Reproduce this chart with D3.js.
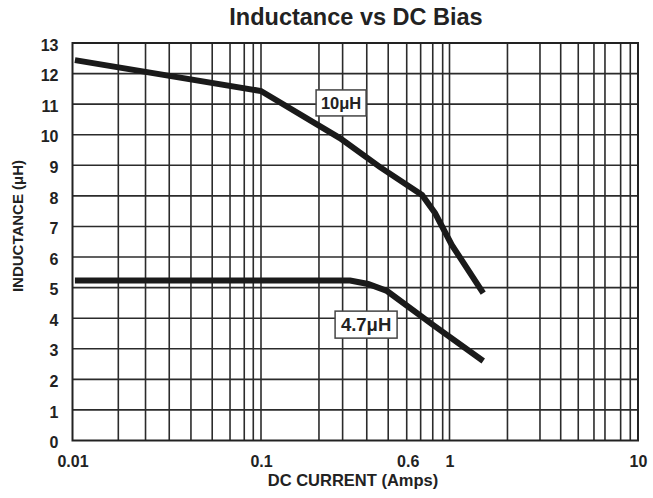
<!DOCTYPE html>
<html>
<head>
<meta charset="utf-8">
<script src="https://cdn.jsdelivr.net/npm/d3@7"></script>
<style>
  body { margin: 0; background: #fff; }
  svg { display: block; font-family: "Liberation Sans", Arial, Helvetica, sans-serif; }
</style>
</head>
<body>
<svg width="653" height="498"></svg>
<script>
// DC current (A) vs inductance (uH)
var current10 = [0.0103, 0.1, 0.262, 0.428, 0.715, 0.838, 1.03, 1.51];
var induct10  = [12.44, 11.43, 9.89, 8.94, 8.03, 7.44, 6.39, 4.82];

var current47 = [0.0103, 0.297, 0.370, 0.466, 0.817, 1.51];
var induct47  = [5.23, 5.23, 5.12, 4.89, 3.78, 2.6];

// vertical grid lines as drawn on the original (not quite even)
var xGrid = [0.0175, 0.0244, 0.0326, 0.0425, 0.0551, 0.0685, 0.0815, 0.091, 0.1,
             0.203, 0.271, 0.364, 0.473, 0.593, 0.703, 0.815, 0.92, 1,
             2.03, 3.02, 3.89, 4.82, 5.84, 6.68, 8.09, 9.1];
var yGrid = [1, 2, 3, 4, 5, 6, 7, 8, 9, 10, 11, 12];

var xTicks = [0.01, 0.1, 0.6, 1, 10];
var xTickLabels = ["0.01", "0.1", "0.6", "1", "10"];
var yTicks = [0, 1, 2, 3, 4, 5, 6, 7, 8, 9, 10, 11, 12, 13];

var seriesNames = ["10\u03BCH", "4.7\u03BCH"];

var margin = {top: 43, right: 15, bottom: 57.5, left: 72.5},
    width = 653, height = 498;

var svg = d3.select("svg");

var scX = d3.scaleLog()
    .domain([0.01, 10])
    .range([margin.left, width - margin.right]);

var scY = d3.scaleLinear()
    .domain([0, 13])
    .range([height - margin.bottom, margin.top]);

var x0 = scX.range()[0], x1 = scX.range()[1],
    y0 = scY.range()[0], y1 = scY.range()[1];

// grid
var grid = svg.append("g").attr("stroke", "#2b2b2b").attr("stroke-width", 1.6);
grid.selectAll("line.v")
    .data(xGrid).enter()
    .append("line").attr("class", "v")
    .attr("x1", d => scX(d)).attr("x2", d => scX(d))
    .attr("y1", y1).attr("y2", y0);
grid.selectAll("line.h")
    .data(yGrid).enter()
    .append("line").attr("class", "h")
    .attr("x1", x0).attr("x2", x1)
    .attr("y1", d => scY(d)).attr("y2", d => scY(d));

// frame
svg.append("rect")
    .attr("x", x0).attr("y", y1)
    .attr("width", x1 - x0).attr("height", y0 - y1)
    .attr("fill", "none").attr("stroke", "#222").attr("stroke-width", 2);

// curves
var lineMaker = d3.line()
    .x(d => scX(d[0]))
    .y(d => scY(d[1]));

[d3.zip(current10, induct10), d3.zip(current47, induct47)].forEach(function(pts){
    svg.append("path")
        .attr("fill", "none").attr("stroke", "#1a1a1a")
        .attr("stroke-width", 6).attr("stroke-linejoin", "miter")
        .attr("stroke-linecap", "butt")
        .attr("d", lineMaker(pts));
});

// axes (labels only)
var xAxis = svg.append("g")
    .attr("transform", "translate(0," + y0 + ")")
    .call(d3.axisBottom(scX).tickValues(xTicks)
        .tickFormat((d, i) => xTickLabels[i]).tickSize(0).tickPadding(15));
var yAxis = svg.append("g")
    .attr("transform", "translate(" + x0 + ",0)")
    .call(d3.axisLeft(scY).tickValues(yTicks).tickSize(0).tickPadding(14));

[xAxis, yAxis].forEach(function(ax){
    ax.select(".domain").remove();
    ax.selectAll("text")
        .attr("fill", "#222").style("font-size", "16px").style("font-weight", "bold")
        .style("font-family", "'Liberation Sans', Arial, sans-serif");
});
yAxis.selectAll("text").attr("dy", "0.45em");

// series labels in boxes
var boxes = [
    {name: seriesNames[0], at: [0.266, 11.04], size: 16.5, w: 50, h: 26},
    {name: seriesNames[1], at: [0.361, 3.79], size: 18.5, w: 62, h: 27}
];
boxes.forEach(function(b){
    var cx = scX(b.at[0]), cy = scY(b.at[1]);
    svg.append("rect")
        .attr("x", cx - b.w / 2).attr("y", cy - b.h / 2)
        .attr("width", b.w).attr("height", b.h)
        .attr("fill", "#fff").attr("stroke", "#444").attr("stroke-width", 1.5);
    svg.append("text")
        .attr("x", cx).attr("y", cy + b.size * 0.36)
        .attr("text-anchor", "middle")
        .attr("font-size", b.size).attr("font-weight", "bold").attr("fill", "#222")
        .text(b.name);
});

// titles
svg.append("text")
    .attr("x", 356).attr("y", 25)
    .attr("text-anchor", "middle")
    .attr("font-size", 23.5).attr("font-weight", "bold").attr("fill", "#222")
    .text("Inductance vs DC Bias");

svg.append("text")
    .attr("x", 353).attr("y", 486)
    .attr("text-anchor", "middle")
    .attr("font-size", 16.5).attr("font-weight", "bold").attr("fill", "#222")
    .text("DC CURRENT (Amps)");

svg.append("text")
    .attr("transform", "translate(23,226) rotate(-90)")
    .attr("text-anchor", "middle")
    .attr("font-size", 15).attr("font-weight", "bold").attr("fill", "#222")
    .text("INDUCTANCE (\u03BCH)");
</script>
</body>
</html>
